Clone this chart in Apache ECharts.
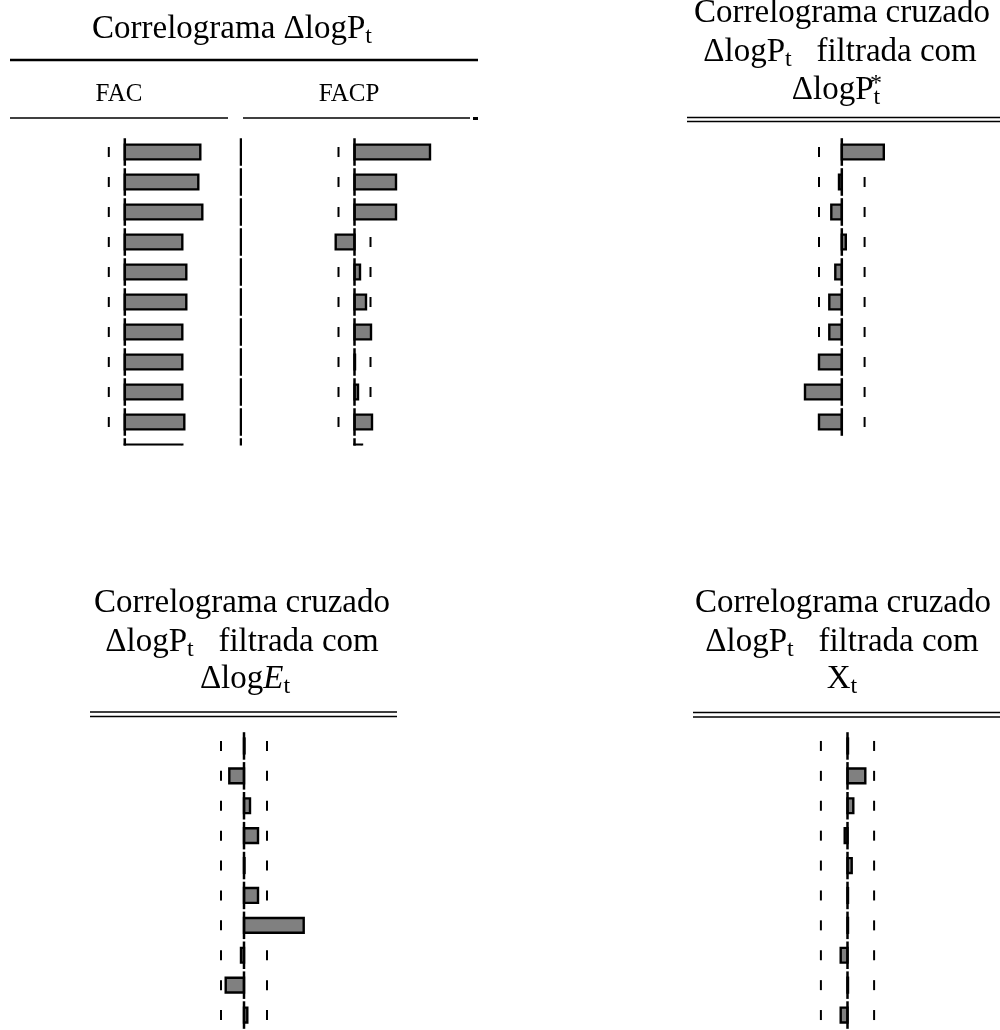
<!DOCTYPE html>
<html>
<head>
<meta charset="utf-8">
<script src="https://cdn.jsdelivr.net/npm/echarts@6/dist/echarts.min.js"></script>
<style>
  html, body { margin: 0; padding: 0; background: #fff; }
  #chart { width: 1000px; height: 1030px; }
</style>
</head>
<body>
<div id="chart"></div>
<script>
// ---- Data: sample correlations by lag ----
// Autocorrelations of ΔlogP (lag 11 is cut by the frame edge)
const lagsAcf = [1, 2, 3, 4, 5, 6, 7, 8, 9, 10, 11];
const facValues  = [0.755, 0.735, 0.775, 0.575, 0.615, 0.615, 0.575, 0.575, 0.575, 0.595, 0.575];
const facpValues = [0.755, 0.415, 0.415, -0.188, 0.055, 0.115, 0.165, 0.005, 0.035, 0.175, 0.075];

// Cross-correlations of filtered ΔlogP with each input
const lagsCross = [1, 2, 3, 4, 5, 6, 7, 8, 9, 10];
const crossPStarValues = [0.42, -0.028, -0.105, 0.04, -0.065, -0.125, -0.125, -0.228, -0.368, -0.228];
const crossEValues     = [0.005, -0.147, 0.06, 0.14, 0.005, 0.14, 0.597, -0.03, -0.183, 0.033];
const crossXValues     = [0.005, 0.178, 0.058, -0.028, 0.042, 0.005, 0.005, -0.068, 0.005, -0.068];

// Approximate ±2 standard-error bands
const bandFac = 0.16;
const bandFacp = 0.16;
const bandPStar = 0.228;
const bandE = 0.23;
const bandX = 0.266;

// ---- Layout ----
const PX_PER_UNIT = 100;   // horizontal pixels per unit of correlation
const ROW = 30;            // pixels per lag row
const FONT = 'Liberation Serif';

// panel: zero position and horizontal/vertical frame of each correlogram column
const panels = [
  { name: 'FAC',   zero: 124.8, left: 20,  right: 242, top: 137, bottom: 445.5, lags: lagsAcf,   values: facValues,        band: bandFac,   divider: true },
  { name: 'FACP',  zero: 354.5, left: 250, right: 475, top: 137, bottom: 445.5, lags: lagsAcf,   values: facpValues,       band: bandFacp },
  { name: 'PStar', zero: 841.8, left: 760, right: 930, top: 137, bottom: 437,   lags: lagsCross, values: crossPStarValues, band: bandPStar },
  { name: 'E',     zero: 244,   left: 160, right: 330, top: 731, bottom: 1031,  lags: lagsCross, values: crossEValues,     band: bandE },
  { name: 'X',     zero: 847.5, left: 770, right: 930, top: 731, bottom: 1031,  lags: lagsCross, values: crossXValues,     band: bandX }
];

function renderRow(withDivider) {
  return function (params, api) {
    const lag = api.value(0);
    const r = api.value(1);
    const band = api.value(2);
    const cs = params.coordSys;
    const zero = api.coord([0, lag]);
    const end = api.coord([r, lag]);
    const lo = api.coord([-band, lag]);
    const hi = api.coord([band, lag]);
    const rowH = api.size([0, 1])[1];
    const cy = zero[1];
    const children = [];
    // dashed band marks
    [lo[0], hi[0]].forEach(function (x) {
      children.push({ type: 'rect', shape: { x: x - 1, y: cy - 5, width: 2, height: 10 }, style: { fill: '#000' } });
    });
    // correlation bar
    children.push({
      type: 'rect',
      shape: { x: Math.min(zero[0], end[0]), y: cy - 7.4, width: Math.max(Math.abs(end[0] - zero[0]), 0.4), height: 14.8 },
      style: { fill: '#808080', stroke: '#000', lineWidth: 2.4 }
    });
    // zero axis segment for this row
    children.push({ type: 'rect', shape: { x: zero[0] - 1.25, y: cy - rowH / 2 + 1.2, width: 2.5, height: rowH - 2.4 }, style: { fill: '#000' } });
    if (withDivider) {
      const dx = cs.x + cs.width - 1;
      children.push({ type: 'rect', shape: { x: dx - 1.25, y: cy - rowH / 2 + 1.2, width: 2.5, height: rowH - 2.4 }, style: { fill: '#000' } });
    }
    return { type: 'group', children: children };
  };
}

const grids = [], xAxes = [], yAxes = [], series = [];
panels.forEach(function (p, i) {
  grids.push({ left: p.left, top: p.top, width: p.right - p.left, height: p.bottom - p.top });
  xAxes.push({
    type: 'value', gridIndex: i, show: false,
    min: (p.left - p.zero) / PX_PER_UNIT, max: (p.right - p.zero) / PX_PER_UNIT
  });
  yAxes.push({
    type: 'value', gridIndex: i, show: false, inverse: true,
    min: 0.5, max: 0.5 + (p.bottom - p.top) / ROW
  });
  series.push({
    type: 'custom', name: p.name, xAxisIndex: i, yAxisIndex: i,
    clip: true, silent: true,
    encode: { x: 1, y: 0 },
    renderItem: renderRow(!!p.divider),
    data: p.lags.map(function (lag, k) { return [lag, p.values[k], p.band]; })
  });
});

// ---- Headings and rules ----
const main = { fontFamily: FONT, fontSize: 33, lineHeight: 40, fill: '#000' };
const sub = { fontFamily: FONT, fontSize: 24, lineHeight: 18, verticalAlign: 'bottom', fill: '#000' };
const ital = { fontFamily: FONT, fontSize: 33, lineHeight: 40, fontStyle: 'italic', fill: '#000' };

function heading(text, x, baseline) {
  return {
    type: 'text', x: x, y: baseline - 7, silent: true,
    style: { text: text, align: 'center', verticalAlign: 'middle', fontFamily: FONT, fontSize: 33, fill: '#000',
             rich: { a: main, s: sub, i: ital } }
  };
}
function bar(x1, x2, y, h) {
  return { type: 'rect', silent: true, shape: { x: x1, y: y - h / 2, width: x2 - x1, height: h }, style: { fill: '#000' } };
}

const graphics = [
  // first block: autocorrelations
  heading('{a|Correlograma ΔlogP}{s|t}', 232, 36),
  bar(10, 478, 60, 2.5),
  { type: 'text', x: 119, y: 94, silent: true, style: { text: 'FAC', align: 'center', verticalAlign: 'middle', fontFamily: FONT, fontSize: 25, fill: '#000' } },
  { type: 'text', x: 349, y: 94, silent: true, style: { text: 'FACP', align: 'center', verticalAlign: 'middle', fontFamily: FONT, fontSize: 25, fill: '#000' } },
  bar(10, 228, 118, 1.5),
  bar(243, 470, 118, 1.5),
  bar(473, 478, 118.5, 3),

  // second block: filtered against ΔlogP*
  heading('{a|Correlograma cruzado}', 842, 20),
  heading('{a|ΔlogP}{s|t}{a|   filtrada com}', 840, 59),
  heading('{a|ΔlogP}{s|t}', 836, 97),
  { type: 'text', x: 876, y: 84, silent: true, style: { text: '*', align: 'center', verticalAlign: 'middle', fontFamily: FONT, fontSize: 24, fill: '#000' } },
  bar(687, 1000, 117.5, 1.5),
  bar(687, 1000, 121.5, 1.5),

  // third block: filtered against ΔlogE
  heading('{a|Correlograma cruzado}', 242, 610),
  heading('{a|ΔlogP}{s|t}{a|   filtrada com}', 242, 649),
  heading('{a|Δlog}{i|E}{s|t}', 245, 686),
  bar(90, 397, 712, 1.5),
  bar(90, 397, 716.5, 1.5),

  // fourth block: filtered against X
  heading('{a|Correlograma cruzado}', 843, 610),
  heading('{a|ΔlogP}{s|t}{a|   filtrada com}', 842, 649),
  heading('{a|X}{s|t}', 842, 686),
  bar(693, 1000, 712.5, 1.5),
  bar(693, 1000, 717, 1.5)
];

const chart = echarts.init(document.getElementById('chart'), null, { renderer: 'canvas' });
chart.setOption({
  animation: false,
  backgroundColor: '#fff',
  grid: grids,
  xAxis: xAxes,
  yAxis: yAxes,
  series: series,
  graphic: graphics
});
</script>
</body>
</html>
